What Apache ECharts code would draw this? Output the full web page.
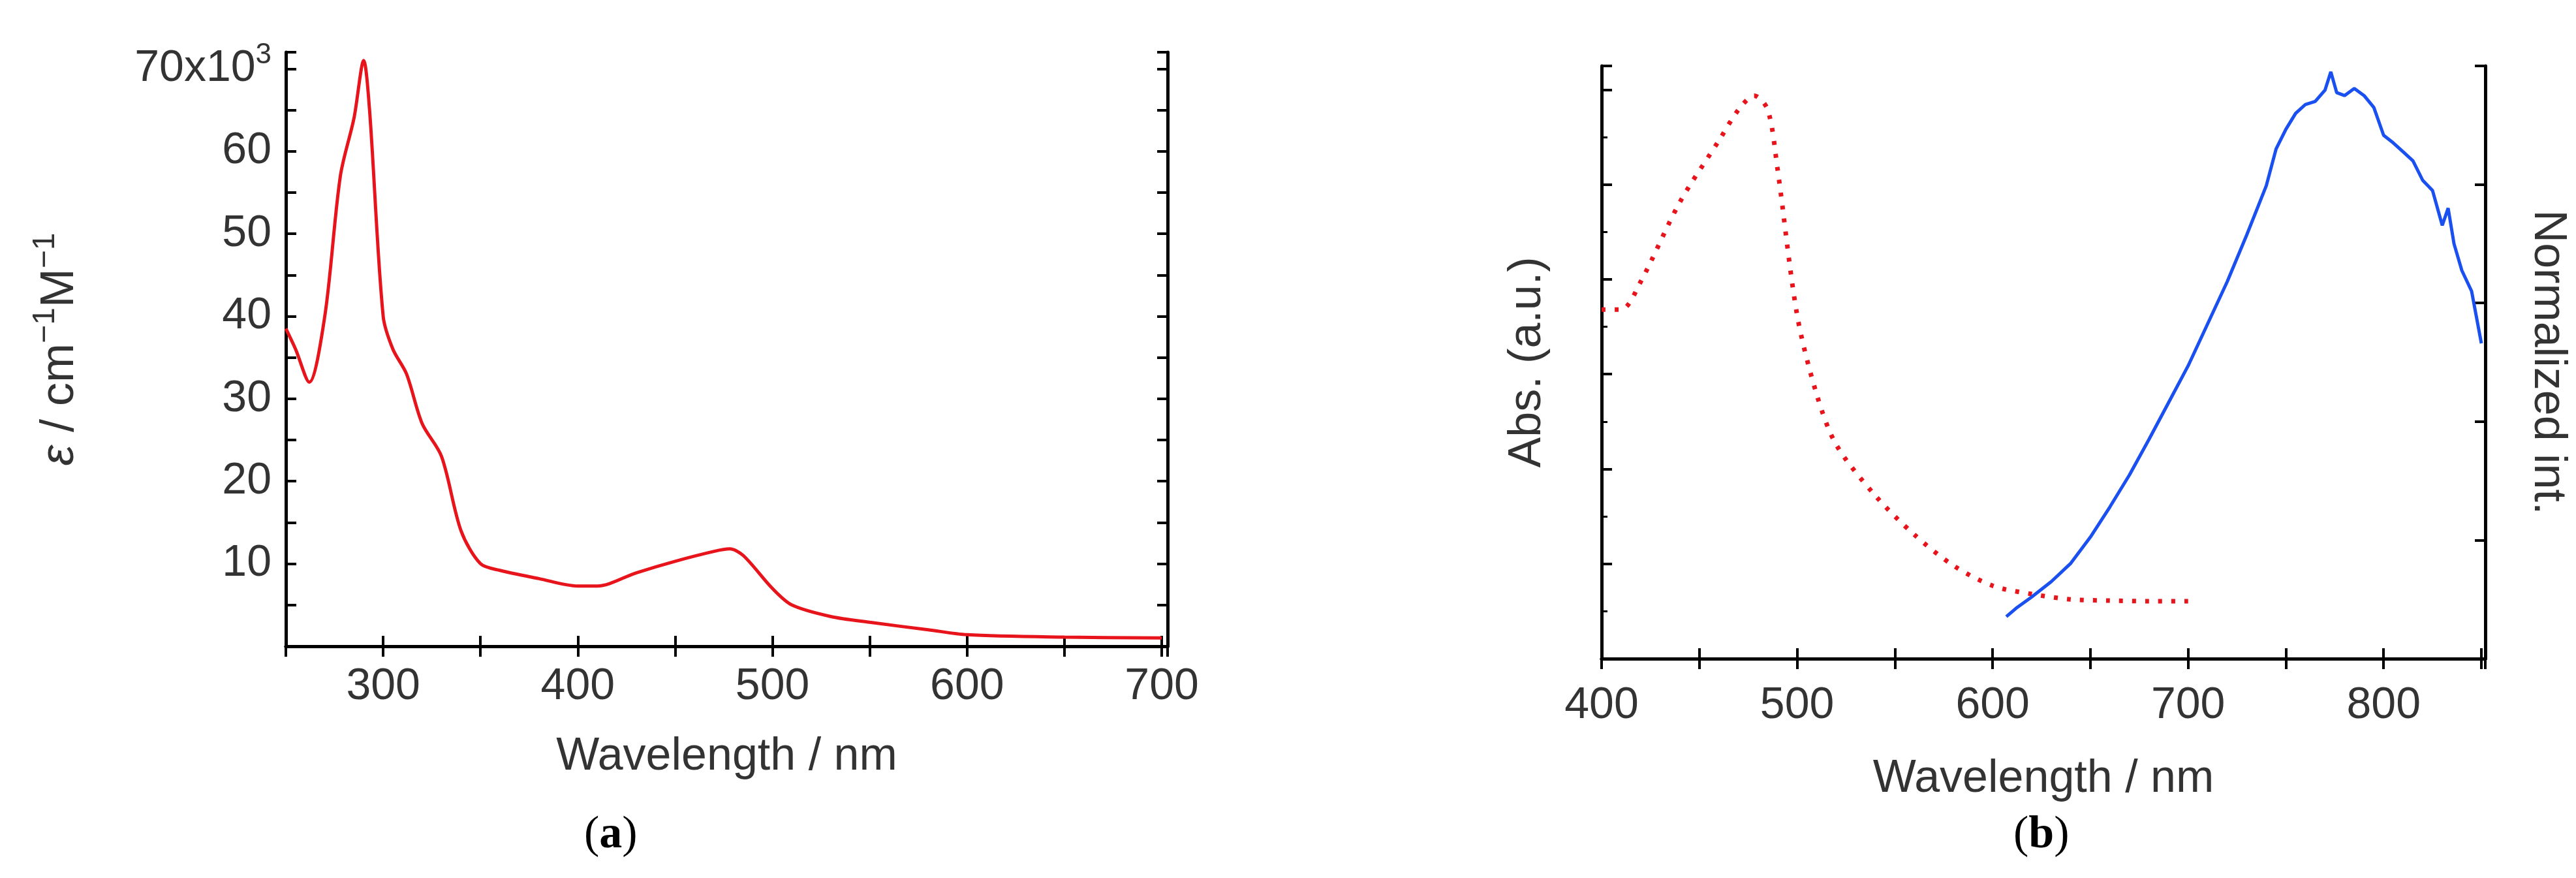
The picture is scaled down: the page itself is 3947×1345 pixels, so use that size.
<!DOCTYPE html>
<html>
<head>
<meta charset="utf-8">
<script src="https://cdn.jsdelivr.net/npm/echarts@6/dist/echarts.min.js"></script>
<style>html,body{margin:0;background:#fff}#c{width:3947px;height:1345px}</style>
</head>
<body>
<div id="c"></div>
<script>
// (a) molar absorption
const absWl = [250,255,262,270,278,285,290,293,300,305,312,320,330,340,350,360,380,400,410,430,450,470,478,485,500,510,530,550,580,600,650,700];
const absEps = [38.5,36,32,40,57,64,71,65,40,36,33,27,23,14,10,9.2,8.2,7.3,7.3,8.9,10.3,11.5,11.8,11,7,5.0,3.6,2.9,2.0,1.4,1.1,1.0];
// (b) normalized absorption (dotted) and emission
const bAbsWl = [400,410,420,440,460,470,478,485,490,500,510,520,540,560,580,600,620,640,660,680,700];
const bAbs = [0.589,0.589,0.636,0.77,0.874,0.926,0.95,0.926,0.826,0.58,0.446,0.361,0.275,0.209,0.157,0.123,0.109,0.1,0.098,0.097,0.097];
const emWl = [607,612,620,630,640,650,660,670,680,690,700,710,720,730,740,745,750,755,760,765,770,773,776,780,785,790,795,800,805,810,815,820,825,830,833,836,840,845,850];
const emInt = [0.071,0.085,0.104,0.13,0.161,0.205,0.256,0.31,0.37,0.432,0.494,0.565,0.636,0.715,0.798,0.86,0.893,0.92,0.935,0.94,0.959,0.99,0.955,0.95,0.962,0.95,0.93,0.883,0.87,0.855,0.84,0.807,0.79,0.731,0.76,0.70,0.655,0.62,0.532];

const font = 'Liberation Sans';
const red = '#e8141c', blue = '#1a4ff0';
const frame = {show: true, lineStyle: {color: '#000', width: 5}};
const ticks = {show: true, inside: true, length: 16, lineStyle: {color: '#000', width: 4}};
const minor = {show: true, splitNumber: 2, length: 9, lineStyle: {color: '#000', width: 3}};
const lbl = {color: '#333', fontFamily: font, fontSize: 68, margin: 28};
const nameStyle = {color: '#333', fontFamily: font, fontSize: 70};

const chart = echarts.init(document.getElementById('c'));
chart.setOption({
  animation: false,
  backgroundColor: '#fff',
  grid: [
    {left: 438, top: 80, width: 1351, height: 910},
    {left: 2454, top: 101, width: 1354, height: 908}
  ],
  xAxis: [
    {gridIndex: 0, type: 'value', min: 250, max: 703, interval: 50,
      axisLine: frame, axisTick: ticks, splitLine: {show: false},
      axisLabel: Object.assign({}, lbl, {formatter: v => v % 100 === 0 ? v : ''}),
      name: 'Wavelength / nm', nameLocation: 'middle', nameGap: 135, nameTextStyle: nameStyle},
    {gridIndex: 0, type: 'value', min: 250, max: 703, interval: 50, position: 'top',
      axisLine: frame, axisTick: ticks, axisLabel: {show: false}, splitLine: {show: false}},
    {gridIndex: 1, type: 'value', min: 400, max: 852, interval: 50,
      axisLine: frame, axisTick: ticks, splitLine: {show: false},
      axisLabel: Object.assign({}, lbl, {margin: 38, formatter: v => v % 100 === 0 ? v : ''}),
      name: 'Wavelength / nm', nameLocation: 'middle', nameGap: 150, nameTextStyle: nameStyle},
    {gridIndex: 1, type: 'value', min: 400, max: 852, interval: 50, position: 'top',
      axisLine: frame, axisTick: ticks, axisLabel: {show: false}, splitLine: {show: false}}
  ],
  yAxis: [
    {gridIndex: 0, type: 'value', min: 0, max: 72, interval: 5,
      axisLine: frame, axisTick: ticks, splitLine: {show: false},
      axisLabel: Object.assign({}, lbl, {margin: 22,
        formatter: v => v === 70 ? '70x10{sup|3}' : (v > 0 && v % 10 === 0 ? String(v) : ''),
        rich: {sup: {fontFamily: font, fontSize: 44, verticalAlign: 'top', padding: [0, 0, 40, 0], color: '#333'}}}),
      name: '{i|ε} / cm{sup|−1}M{sup|−1}', nameLocation: 'middle', nameGap: 300,
      nameTextStyle: {color: '#333', fontFamily: font, fontSize: 72,
        rich: {i: {fontFamily: font, fontStyle: 'italic', fontSize: 72, color: '#333'},
               sup: {fontFamily: font, fontSize: 48, padding: [0, 0, 44, 0], color: '#333'}}}},
    {gridIndex: 0, type: 'value', min: 0, max: 72, interval: 5, position: 'right',
      axisLine: frame, axisTick: ticks, axisLabel: {show: false}, splitLine: {show: false}},
    {gridIndex: 1, type: 'value', min: 0, max: 1, interval: 0.16,
      axisLine: frame, axisTick: ticks, minorTick: minor, axisLabel: {show: false}, splitLine: {show: false},
      name: 'Abs. (a.u.)', nameLocation: 'middle', nameGap: 78, nameTextStyle: nameStyle},
    {gridIndex: 1, type: 'value', min: 0, max: 1, interval: 0.2, position: 'right',
      axisLine: frame, axisTick: ticks, axisLabel: {show: false}, splitLine: {show: false},
      name: 'Normalized int.', nameLocation: 'middle', nameGap: 60, nameRotate: -90, nameTextStyle: nameStyle}
  ],
  series: [
    {type: 'line', xAxisIndex: 0, yAxisIndex: 0, smooth: 0.3, symbol: 'none',
      lineStyle: {color: red, width: 5}, data: absWl.map((w, i) => [w, absEps[i]])},
    {type: 'line', xAxisIndex: 2, yAxisIndex: 2, smooth: 0.3, symbol: 'none',
      lineStyle: {color: red, width: 7, type: [6, 14]}, data: bAbsWl.map((w, i) => [w, bAbs[i]])},
    {type: 'line', xAxisIndex: 2, yAxisIndex: 3, symbol: 'none',
      lineStyle: {color: blue, width: 5}, data: emWl.map((w, i) => [w, emInt[i]])}
  ],
  graphic: [
    {type: 'text', left: 895, top: 1245, style: {text: '({b|a})', fontFamily: 'Liberation Serif', fontSize: 70, fill: '#000',
      rich: {b: {fontFamily: 'Liberation Serif', fontWeight: 'bold', fontSize: 70, fill: '#000'}}}},
    {type: 'text', left: 3085, top: 1245, style: {text: '({b|b})', fontFamily: 'Liberation Serif', fontSize: 70, fill: '#000',
      rich: {b: {fontFamily: 'Liberation Serif', fontWeight: 'bold', fontSize: 70, fill: '#000'}}}}
  ]
});
</script>
</body>
</html>
